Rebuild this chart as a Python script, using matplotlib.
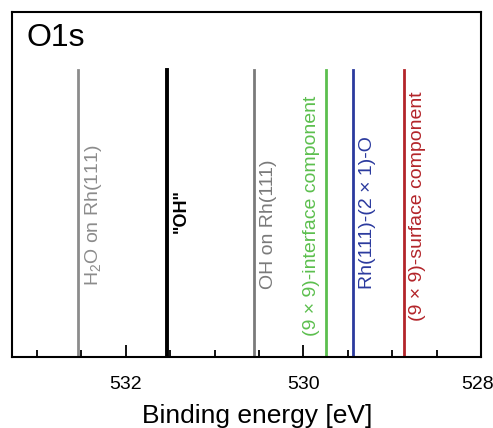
import matplotlib
matplotlib.use("Agg")
import matplotlib.pyplot as plt
import matplotlib.transforms as mtransforms
from matplotlib.ticker import MultipleLocator, FixedLocator

plt.rcParams["font.family"] = ["Liberation Sans", "DejaVu Sans"]
plt.rcParams["mathtext.fontset"] = "custom"
plt.rcParams["mathtext.rm"] = "Liberation Sans"

# binding energies of the reference components (eV)
energies = [532.54, 531.53, 530.55, 529.75, 529.44, 528.87]
labels = [
    r"H$_2$O on Rh(111)",
    '"OH"',
    "OH on Rh(111)",
    "(9 × 9)-interface component",
    "Rh(111)-(2 × 1)-O",
    "(9 × 9)-surface component",
]
tick_values = [532, 530, 528]

# styling / layout per line
colors = ["#8c8c8c", "#000000", "#7a7a7a", "#5cbf4e", "#2b3a9e", "#b3252a"]
widths = [2.0, 2.8, 2.0, 2.0, 2.0, 2.0]
weights = ["normal", "bold", "normal", "normal", "normal", "normal"]
sizes = [14, 13, 14, 14, 14, 14]
side = [1, 1, 1, -1, 1, 1]          # text right (+1) or left (-1) of line
text_bottom = [0.205, 0.36, 0.197, 0.061, 0.197, 0.104]

fig = plt.figure(figsize=(4.93, 4.28), dpi=100)
ax = fig.add_axes([0.0243, 0.166, 0.9514, 0.806])

for e, lab, c, w, fw, fs, s, yb in zip(energies, labels, colors, widths,
                                         weights, sizes, side, text_bottom):
    ax.axvline(e, ymin=0, ymax=0.832, color=c, lw=w)
    ax.annotate(lab, xy=(e, yb), xycoords=("data", "axes fraction"),
                xytext=(4 * s, 0), textcoords="offset points",
                rotation=90, ha="left" if s > 0 else "right", va="bottom",
                color=c, fontsize=fs, fontweight=fw)

ax.set_xlim(533.28, 528.0)
ax.set_ylim(0, 1)
ax.xaxis.set_major_locator(FixedLocator(tick_values))
ax.xaxis.set_minor_locator(MultipleLocator(0.5))
ax.tick_params(axis="x", which="major", direction="in", length=9, width=1.3,
               labelsize=14, pad=14)
ax.tick_params(axis="x", which="minor", direction="in", length=5, width=1.3)
ax.set_yticks([])
for sp in ax.spines.values():
    sp.set_linewidth(1.5)

# keep the last tick label inside the canvas
last = ax.get_xticklabels()[-1]
last.set_transform(last.get_transform()
                   + mtransforms.ScaledTranslation(-0.03, 0, fig.dpi_scale_trans))

ax.set_xlabel("Binding energy [eV]", fontsize=19)
ax.xaxis.set_label_coords(0.522, -0.135)
ax.text(0.031, 0.968, "O1s", transform=ax.transAxes, fontsize=23,
        ha="left", va="top")

fig.savefig("out.png", dpi=100)
